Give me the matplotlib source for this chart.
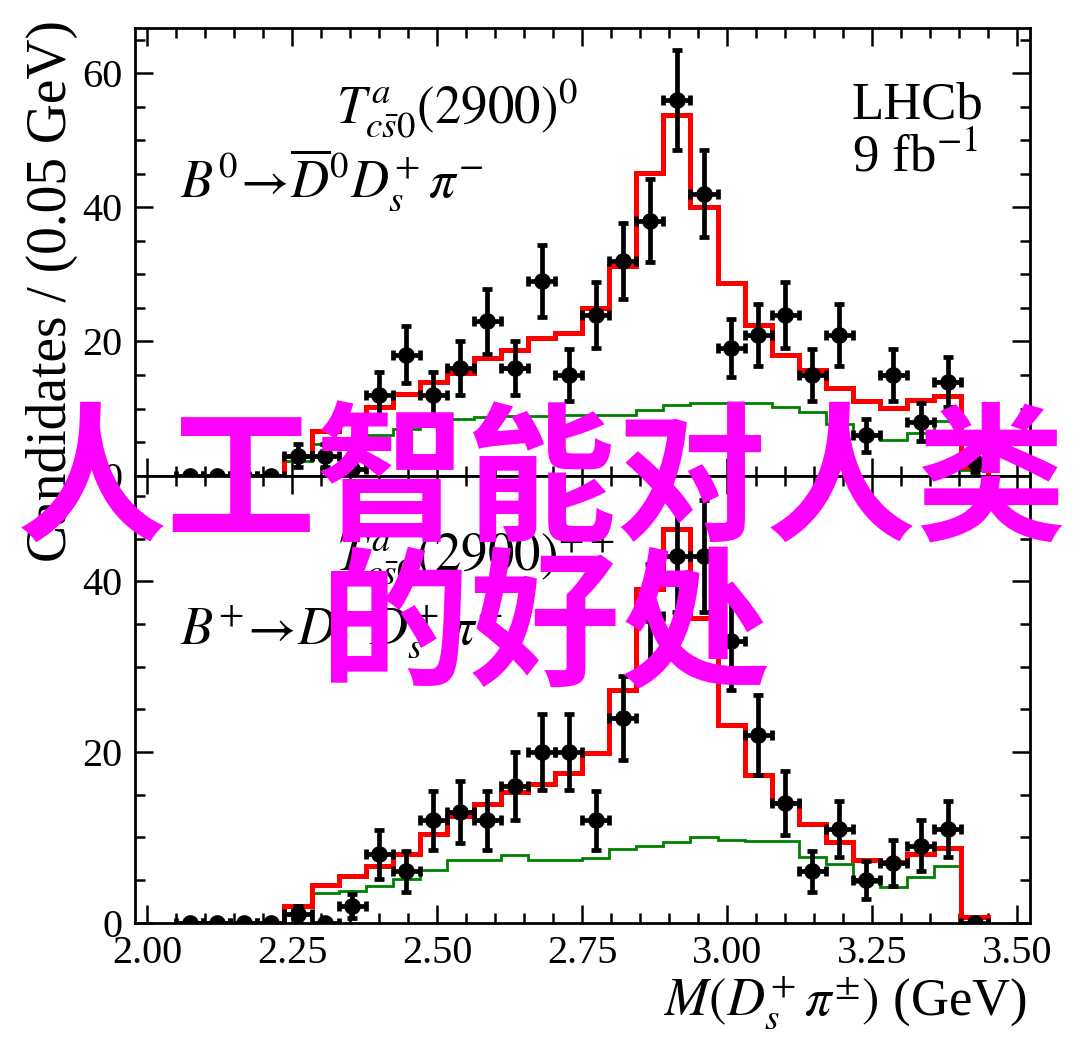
import numpy as np
import matplotlib
matplotlib.use("Agg")
import matplotlib.pyplot as plt
from matplotlib.ticker import MultipleLocator, FormatStrFormatter

# binning of M(Ds+ pi) : 30 bins between 2.05 and 3.45 GeV
BIN_LO, BIN_HI, N_BINS = 2.05, 3.45, 30

# B0 -> D0bar Ds+ pi-  (top panel)
top_counts = [0, 0, 0, 0, 3, 3, 1, 12, 18, 12, 16, 23, 16, 29, 15,
              24, 32, 38, 56, 42, 19, 21, 24, 15, 21, 6, 15, 8, 14, 2]
top_fit = [0, 0, 0, 0, 2.9, 6.6, 8.5, 10.3, 12.1, 14.0, 15.3, 17.5, 18.7, 20.5, 21.3,
           25.0, 31.2, 45.1, 53.8, 40.1, 28.7, 22.5, 18.0, 15.7, 13.0, 11.2, 10.1, 11.3, 11.9, 1.3]
top_bkg = [0, 0, 0, 0, 2.2, 4.7, 5.3, 6.0, 6.9, 7.8, 8.4, 8.8, 8.9, 8.9, 9.0,
           9.0, 9.1, 9.8, 10.5, 10.8, 10.9, 10.9, 10.3, 9.5, 7.7, 6.0, 5.3, 6.4, 8.2, 0.8]

# B+ -> D- Ds+ pi+  (bottom panel)
bot_counts = [0, 0, 0, 0, 1, 0, 2, 8, 6, 12, 13, 12, 16, 20, 20,
              12, 24, 36, 43, 43, 33, 22, 14, 6, 11, 5, 7, 9, 11, 0]
bot_fit = [0, 0, 0, 0, 2.0, 4.4, 5.5, 6.6, 8.05, 10.4, 12.5, 13.9, 15.3, 16.2, 17.6,
           19.9, 27.3, 39.1, 46.1, 35.7, 23.2, 17.3, 14.0, 11.6, 9.4, 7.35, 7.15, 8.1, 8.7, 0.7]
bot_bkg = [0, 0, 0, 0, 1.8, 3.5, 3.75, 4.3, 5.1, 6.2, 7.35, 7.35, 7.9, 7.4, 7.4,
           7.55, 8.6, 9.0, 9.5, 10.0, 9.7, 9.6, 9.6, 7.7, 6.85, 4.8, 4.15, 5.3, 6.6, 0.5]

TOP_STATE = r"$T^{a}_{c\bar{s}0}(2900)^{0}$"
TOP_DECAY = r"$B^{0}\!\rightarrow\!\overline{D}^{0}D_{s}^{+}\,\pi^{-}$"
BOT_STATE = r"$T^{a}_{c\bar{s}0}(2900)^{++}$"
BOT_DECAY = r"$B^{+}\!\rightarrow\!D^{-}D_{s}^{+}\,\pi^{+}$"
OVERLAY = ["人工智能对人类", "的好处"]

FS = 38


def draw_panel(ax, counts, fit, bkg, ymax):
    edges = np.linspace(BIN_LO, BIN_HI, N_BINS + 1)
    centers = 0.5 * (edges[:-1] + edges[1:])
    half = 0.5 * (edges[1] - edges[0])
    counts = np.asarray(counts, dtype=float)

    ax.stairs(bkg, edges, color="#008000", lw=2.0, zorder=2)
    ax.stairs(fit, edges, color="#ff0000", lw=3.6, zorder=3)
    ax.errorbar(centers, counts, yerr=np.sqrt(counts), xerr=half, fmt="o",
                color="black", ms=11, elinewidth=3.4, capsize=3.5, capthick=3.4, zorder=4)

    ax.set_xlim(1.979, 3.522)
    ax.set_ylim(0, ymax)
    ax.xaxis.set_major_locator(MultipleLocator(0.25))
    ax.xaxis.set_minor_locator(MultipleLocator(0.05))
    ax.xaxis.set_major_formatter(FormatStrFormatter("%.2f"))
    ax.yaxis.set_major_locator(MultipleLocator(20))
    ax.yaxis.set_minor_locator(MultipleLocator(5))
    ax.tick_params(which="both", direction="in", top=True, right=True, width=1.8)
    ax.tick_params(which="major", length=13, labelsize=29, pad=9)
    ax.tick_params(which="minor", length=7)
    for sp in ax.spines.values():
        sp.set_linewidth(2.0)


def main():
    plt.rcParams["font.family"] = ["Liberation Serif", "DejaVu Serif"]
    plt.rcParams["mathtext.fontset"] = "stix"

    fig = plt.figure(figsize=(10.8, 10.57), dpi=100)
    ax_top = fig.add_axes([0.125, 0.5500, 0.8287, 0.4233])
    ax_bot = fig.add_axes([0.125, 0.1271, 0.8287, 0.4229])

    draw_panel(ax_top, top_counts, top_fit, top_bkg, 66.7)
    draw_panel(ax_bot, bot_counts, bot_fit, bot_bkg, 52.4)
    ax_top.tick_params(labelbottom=False)

    for ax, state, decay in [(ax_top, TOP_STATE, TOP_DECAY), (ax_bot, BOT_STATE, BOT_DECAY)]:
        ax.text(0.225, 0.788, state, transform=ax.transAxes, fontsize=FS, va="baseline")
        ax.text(0.050, 0.624, decay, transform=ax.transAxes, fontsize=FS, va="baseline")

    ax_top.text(0.801, 0.799, "LHCb", transform=ax_top.transAxes, fontsize=FS, va="baseline")
    ax_top.text(0.801, 0.680, r"9 fb$^{-1}$", transform=ax_top.transAxes, fontsize=FS, va="baseline")

    fig.text(0.048, 1 - 20 / 1057, "Candidates / (0.05 GeV)", rotation=90,
             ha="center", va="top", fontsize=40)
    fig.text(1027 / 1080, 1 - 1015 / 1057, r"$M(D_{s}^{+}\,\pi^{\pm})$ (GeV)",
             ha="right", va="baseline", fontsize=FS)

    # watermark-like overlay
    fig.text(0.5014, 1 - 486 / 1057, OVERLAY[0], fontsize=108, color="#ff00ff",
             fontweight="bold", family=["Noto Sans CJK SC", "DejaVu Sans"],
             ha="center", va="center", zorder=10)
    fig.text(0.5046, 1 - 631 / 1057, OVERLAY[1], fontsize=108, color="#ff00ff",
             fontweight="bold", family=["Noto Sans CJK SC", "DejaVu Sans"],
             ha="center", va="center", zorder=10)

    fig.savefig("out.png", dpi=100)
    plt.close(fig)


if __name__ == "__main__":
    main()
